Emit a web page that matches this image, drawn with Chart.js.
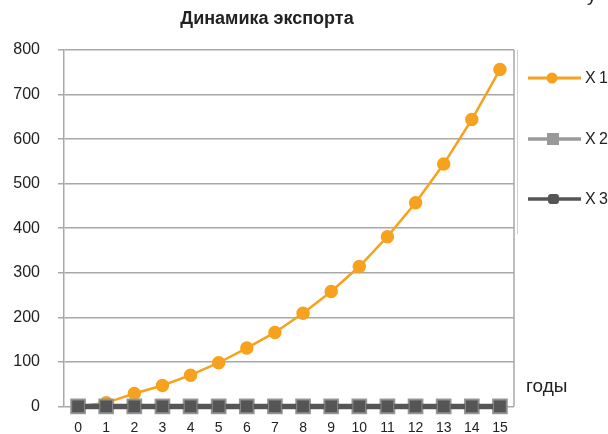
<!DOCTYPE html>
<html>
<head>
<meta charset="utf-8">
<script src="https://cdn.jsdelivr.net/npm/chart.js@4"></script>
<style>
	html, body { margin: 0; padding: 0; background: #fff; }
	#wrap { width: 608px; height: 434px; position: relative; }
</style>
</head>
<body>
<div id="wrap"><canvas id="chart"></canvas></div>
<script>
// Data
const years = ['0', '1', '2', '3', '4', '5', '6', '7', '8', '9', '10', '11', '12', '13', '14', '15'];
const x1 = [0, 8, 29, 47, 70, 98, 131, 166, 209, 258, 314, 381, 457, 544, 644, 756];
const x2 = [0, 0, 0, 0, 0, 0, 0, 0, 0, 0, 0, 0, 0, 0, 0, 0];
const x3 = [0, 0, 0, 0, 0, 0, 0, 0, 0, 0, 0, 0, 0, 0, 0, 0];
const seriesNames = ['X 1', 'X 2', 'X 3'];
const yTicks = [0, 100, 200, 300, 400, 500, 600, 700, 800];

const FONT = '"Liberation Sans", Arial, sans-serif';
const ORANGE = '#f6a21e';

// Title, legend, side labels and frame
const decor = {
	id: 'decor',
	afterDraw(chart) {
		const ctx = chart.ctx;
		const area = chart.chartArea;
		ctx.save();

		// right border of the plot
		ctx.strokeStyle = '#a8a8a8';
		ctx.lineWidth = 1.5;
		ctx.beginPath();
		ctx.moveTo(area.right, area.top);
		ctx.lineTo(area.right, area.bottom);
		ctx.stroke();

		// thin line left of the legend
		ctx.strokeStyle = '#d0d0d0';
		ctx.lineWidth = 1;
		ctx.beginPath();
		ctx.moveTo(517.5, area.top);
		ctx.lineTo(517.5, 234);
		ctx.stroke();

		ctx.fillStyle = '#222';
		ctx.font = 'bold 18px ' + FONT;
		ctx.textAlign = 'center';
		ctx.textBaseline = 'middle';
		ctx.fillText('Динамика экспорта', 267, 19);

		ctx.font = '19px ' + FONT;
		ctx.textAlign = 'left';
		ctx.fillText('годы', 526, 387);

		ctx.textBaseline = 'alphabetic';
		ctx.fillText('у', 587, 1);

		// legend
		const rows = [78, 139, 199];
		chart.data.datasets.forEach((ds, i) => {
			const y = rows[i];
			ctx.strokeStyle = ds.borderColor;
			ctx.lineWidth = i === 0 ? 3 : 3.5;
			ctx.beginPath();
			ctx.moveTo(528, y);
			ctx.lineTo(581, y);
			ctx.stroke();
			ctx.fillStyle = ds.pointBackgroundColor;
			if (i === 0) {
				ctx.beginPath();
				ctx.arc(552, y, 5.5, 0, Math.PI * 2);
				ctx.fill();
			} else if (i === 1) {
				ctx.fillStyle = '#999';
				ctx.fillRect(547, y - 6, 12, 12);
			} else {
				ctx.beginPath();
				ctx.roundRect(548, y - 5, 11, 10, 3);
				ctx.fill();
			}
			const [a, b] = seriesNames[i].split(' ');
			ctx.fillStyle = '#222';
			ctx.font = '16px ' + FONT;
			ctx.textAlign = 'left';
			ctx.textBaseline = 'middle';
			ctx.fillText(a, 585, y + 1);
			ctx.fillText(b, 599, y + 1);
		});
		ctx.restore();
	}
};

new Chart(document.getElementById('chart'), {
	type: 'line',
	data: {
		labels: years,
		datasets: [
			{
				label: seriesNames[0],
				data: x1,
				order: 2,
				borderColor: ORANGE,
				backgroundColor: ORANGE,
				pointBackgroundColor: ORANGE,
				pointBorderColor: ORANGE,
				pointRadius: 5.5,
				borderWidth: 2.5,
				tension: 0,
			},
			{
				label: seriesNames[1],
				data: x2,
				order: 1,
				borderColor: '#9a9a9a',
				backgroundColor: '#9a9a9a',
				pointBackgroundColor: '#9a9a9a',
				pointBorderColor: '#9a9a9a',
				pointStyle: 'rect',
				pointRadius: 9,
				borderWidth: 3,
			},
			{
				label: seriesNames[2],
				data: x3,
				order: 0,
				borderColor: '#555555',
				backgroundColor: '#555555',
				pointBackgroundColor: '#555555',
				pointBorderColor: '#8a8a8a',
				pointBorderWidth: 1,
				pointStyle: 'rect',
				pointRadius: 9,
				borderWidth: 5.5,
			}
		]
	},
	options: {
		responsive: true,
		maintainAspectRatio: false,
		animation: false,
		clip: false,
		layout: { padding: { top: 50, right: 94, left: 0, bottom: 0 } },
		plugins: {
			legend: { display: false },
			title: { display: false },
			tooltip: { enabled: false }
		},
		scales: {
			x: {
				offset: true,
				grid: { display: false, drawTicks: false },
				border: { display: false },
				ticks: { color: '#222', font: { family: FONT, size: 14 }, padding: 13, maxRotation: 0, autoSkip: false },
				afterFit(scale) { scale.height = 27; }
			},
			y: {
				min: 0,
				max: 800,
				afterBuildTicks(scale) { scale.ticks = yTicks.map(v => ({ value: v })); },
				grid: { color: '#a8a8a8', lineWidth: 1.5, tickLength: 6, drawTicks: true },
				border: { color: '#a8a8a8', width: 1.5 },
				ticks: { color: '#222', font: { family: FONT, size: 16 }, padding: 18 },
				afterFit(scale) { scale.width = 64; }
			}
		}
	},
	plugins: [decor]
});
</script>
</body>
</html>
